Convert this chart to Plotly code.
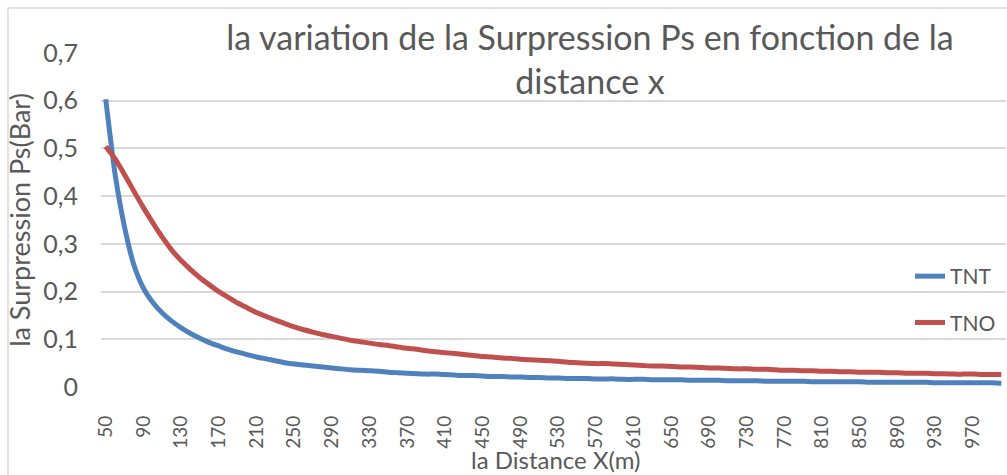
import plotly.graph_objects as go

# Distance categories (m)
distance = list(range(50, 1001, 10))

# Overpressure Ps (bar) for the TNT model
tnt = [0.603, 0.445, 0.335, 0.255, 0.207, 0.177, 0.155, 0.138, 0.124, 0.112,
       0.102, 0.093, 0.086, 0.079, 0.073, 0.068, 0.063, 0.059, 0.055, 0.051,
       0.048, 0.046, 0.044, 0.042, 0.040, 0.038, 0.036, 0.035, 0.034, 0.033,
       0.031, 0.030, 0.029, 0.028, 0.027, 0.027, 0.026, 0.025, 0.024, 0.024,
       0.023, 0.022, 0.022, 0.021, 0.021, 0.020, 0.020, 0.019, 0.019, 0.018,
       0.018, 0.018, 0.017, 0.017, 0.017, 0.016, 0.016, 0.016, 0.015, 0.015,
       0.015, 0.015, 0.014, 0.014, 0.014, 0.014, 0.013, 0.013, 0.013, 0.013,
       0.012, 0.012, 0.012, 0.012, 0.012, 0.011, 0.011, 0.011, 0.011, 0.011,
       0.011, 0.010, 0.010, 0.010, 0.010, 0.010, 0.010, 0.010, 0.009, 0.009,
       0.009, 0.009, 0.009, 0.009, 0.009, 0.008]

# Overpressure Ps (bar) for the TNO multi-energy model
tno = [0.504, 0.478, 0.445, 0.410, 0.376, 0.344, 0.314, 0.287, 0.265, 0.246,
       0.229, 0.214, 0.200, 0.188, 0.176, 0.166, 0.156, 0.148, 0.140, 0.133,
       0.126, 0.120, 0.115, 0.110, 0.106, 0.102, 0.098, 0.095, 0.092, 0.089,
       0.087, 0.084, 0.081, 0.079, 0.076, 0.074, 0.072, 0.070, 0.068, 0.066,
       0.064, 0.063, 0.061, 0.060, 0.058, 0.057, 0.056, 0.055, 0.054, 0.052,
       0.051, 0.050, 0.049, 0.049, 0.048, 0.047, 0.046, 0.045, 0.044, 0.044,
       0.043, 0.042, 0.042, 0.041, 0.040, 0.040, 0.039, 0.038, 0.038, 0.037,
       0.037, 0.036, 0.035, 0.035, 0.034, 0.034, 0.033, 0.033, 0.032, 0.032,
       0.031, 0.031, 0.031, 0.030, 0.030, 0.029, 0.029, 0.029, 0.028, 0.028,
       0.027, 0.027, 0.027, 0.026, 0.026, 0.026]

x_tick_values = list(range(50, 971, 40))
y_tick_values = [0, 0.1, 0.2, 0.3, 0.4, 0.5, 0.6, 0.7]
y_tick_labels = ["0", "0,1", "0,2", "0,3", "0,4", "0,5", "0,6", "0,7"]

TEXT = "#595959"
GRID = "#d9d9d9"
FONT = "Lato"

W, H = 1007, 475
L, R, T, B = 101, 1, 53, 88
pw, ph = W - L - R, H - T - B

fig = go.Figure()
fig.add_trace(go.Scatter(x=distance, y=tnt, name="TNT", mode="lines",
                         legendgroup="tnt",
                         line=dict(color="#4f81bd", width=5, shape="spline", smoothing=0.6)))
fig.add_trace(go.Scatter(x=distance, y=tno, name="TNO", mode="lines",
                         legendgroup="tno",
                         line=dict(color="#c0504d", width=5, shape="spline", smoothing=0.6)))

# outer chart border
fig.add_shape(type="rect", xref="paper", yref="paper",
              x0=(8 - L) / pw, x1=(W + 20 - L) / pw,
              y0=-(B + 20) / ph, y1=(H - B - 8) / ph,
              line=dict(color=GRID, width=1.5), fillcolor="rgba(0,0,0,0)", layer="below")

# x axis title, placed just under the rotated tick labels
fig.add_annotation(text="la Distance X(m)", xref="paper", yref="paper",
                   x=(555 - L) / pw, y=-(460 - (H - B)) / ph,
                   xanchor="center", yanchor="middle", showarrow=False,
                   font=dict(family=FONT, size=24, color=TEXT))

fig.update_layout(
    width=W, height=H,
    margin=dict(l=L, r=R, t=T, b=B),
    paper_bgcolor="white", plot_bgcolor="white",
    font=dict(family=FONT, color=TEXT, size=21),
    title=dict(text="la variation de la Surpression Ps en fonction de la<br>distance x",
               x=(590 - L) / pw, xref="paper", xanchor="center",
               y=1 - 50 / H, yref="container", yanchor="middle",
               font=dict(family=FONT, size=34, color=TEXT)),
    xaxis=dict(range=[45, 1005], tickvals=x_tick_values, tickangle=-90,
               showgrid=False, zeroline=False, showline=False, ticks="",
               ticklabelstandoff=24,
               tickfont=dict(size=19, color=TEXT)),
    yaxis=dict(range=[0, 0.7], tickvals=y_tick_values, ticktext=y_tick_labels,
               showgrid=True, gridcolor=GRID, gridwidth=1.5,
               zeroline=False, showline=False, ticks="",
               ticklabelstandoff=22,
               tickfont=dict(size=25, color=TEXT),
               title=dict(text="la Surpression Ps(Bar)", standoff=4,
                          font=dict(size=27, color=TEXT))),
    legend=dict(x=(910 - L) / pw, xanchor="left", y=(H - B - 256) / ph, yanchor="top",
                bgcolor="rgba(0,0,0,0)", font=dict(size=21, color=TEXT),
                tracegroupgap=16),
    showlegend=True,
)

fig.write_html("out.html")
